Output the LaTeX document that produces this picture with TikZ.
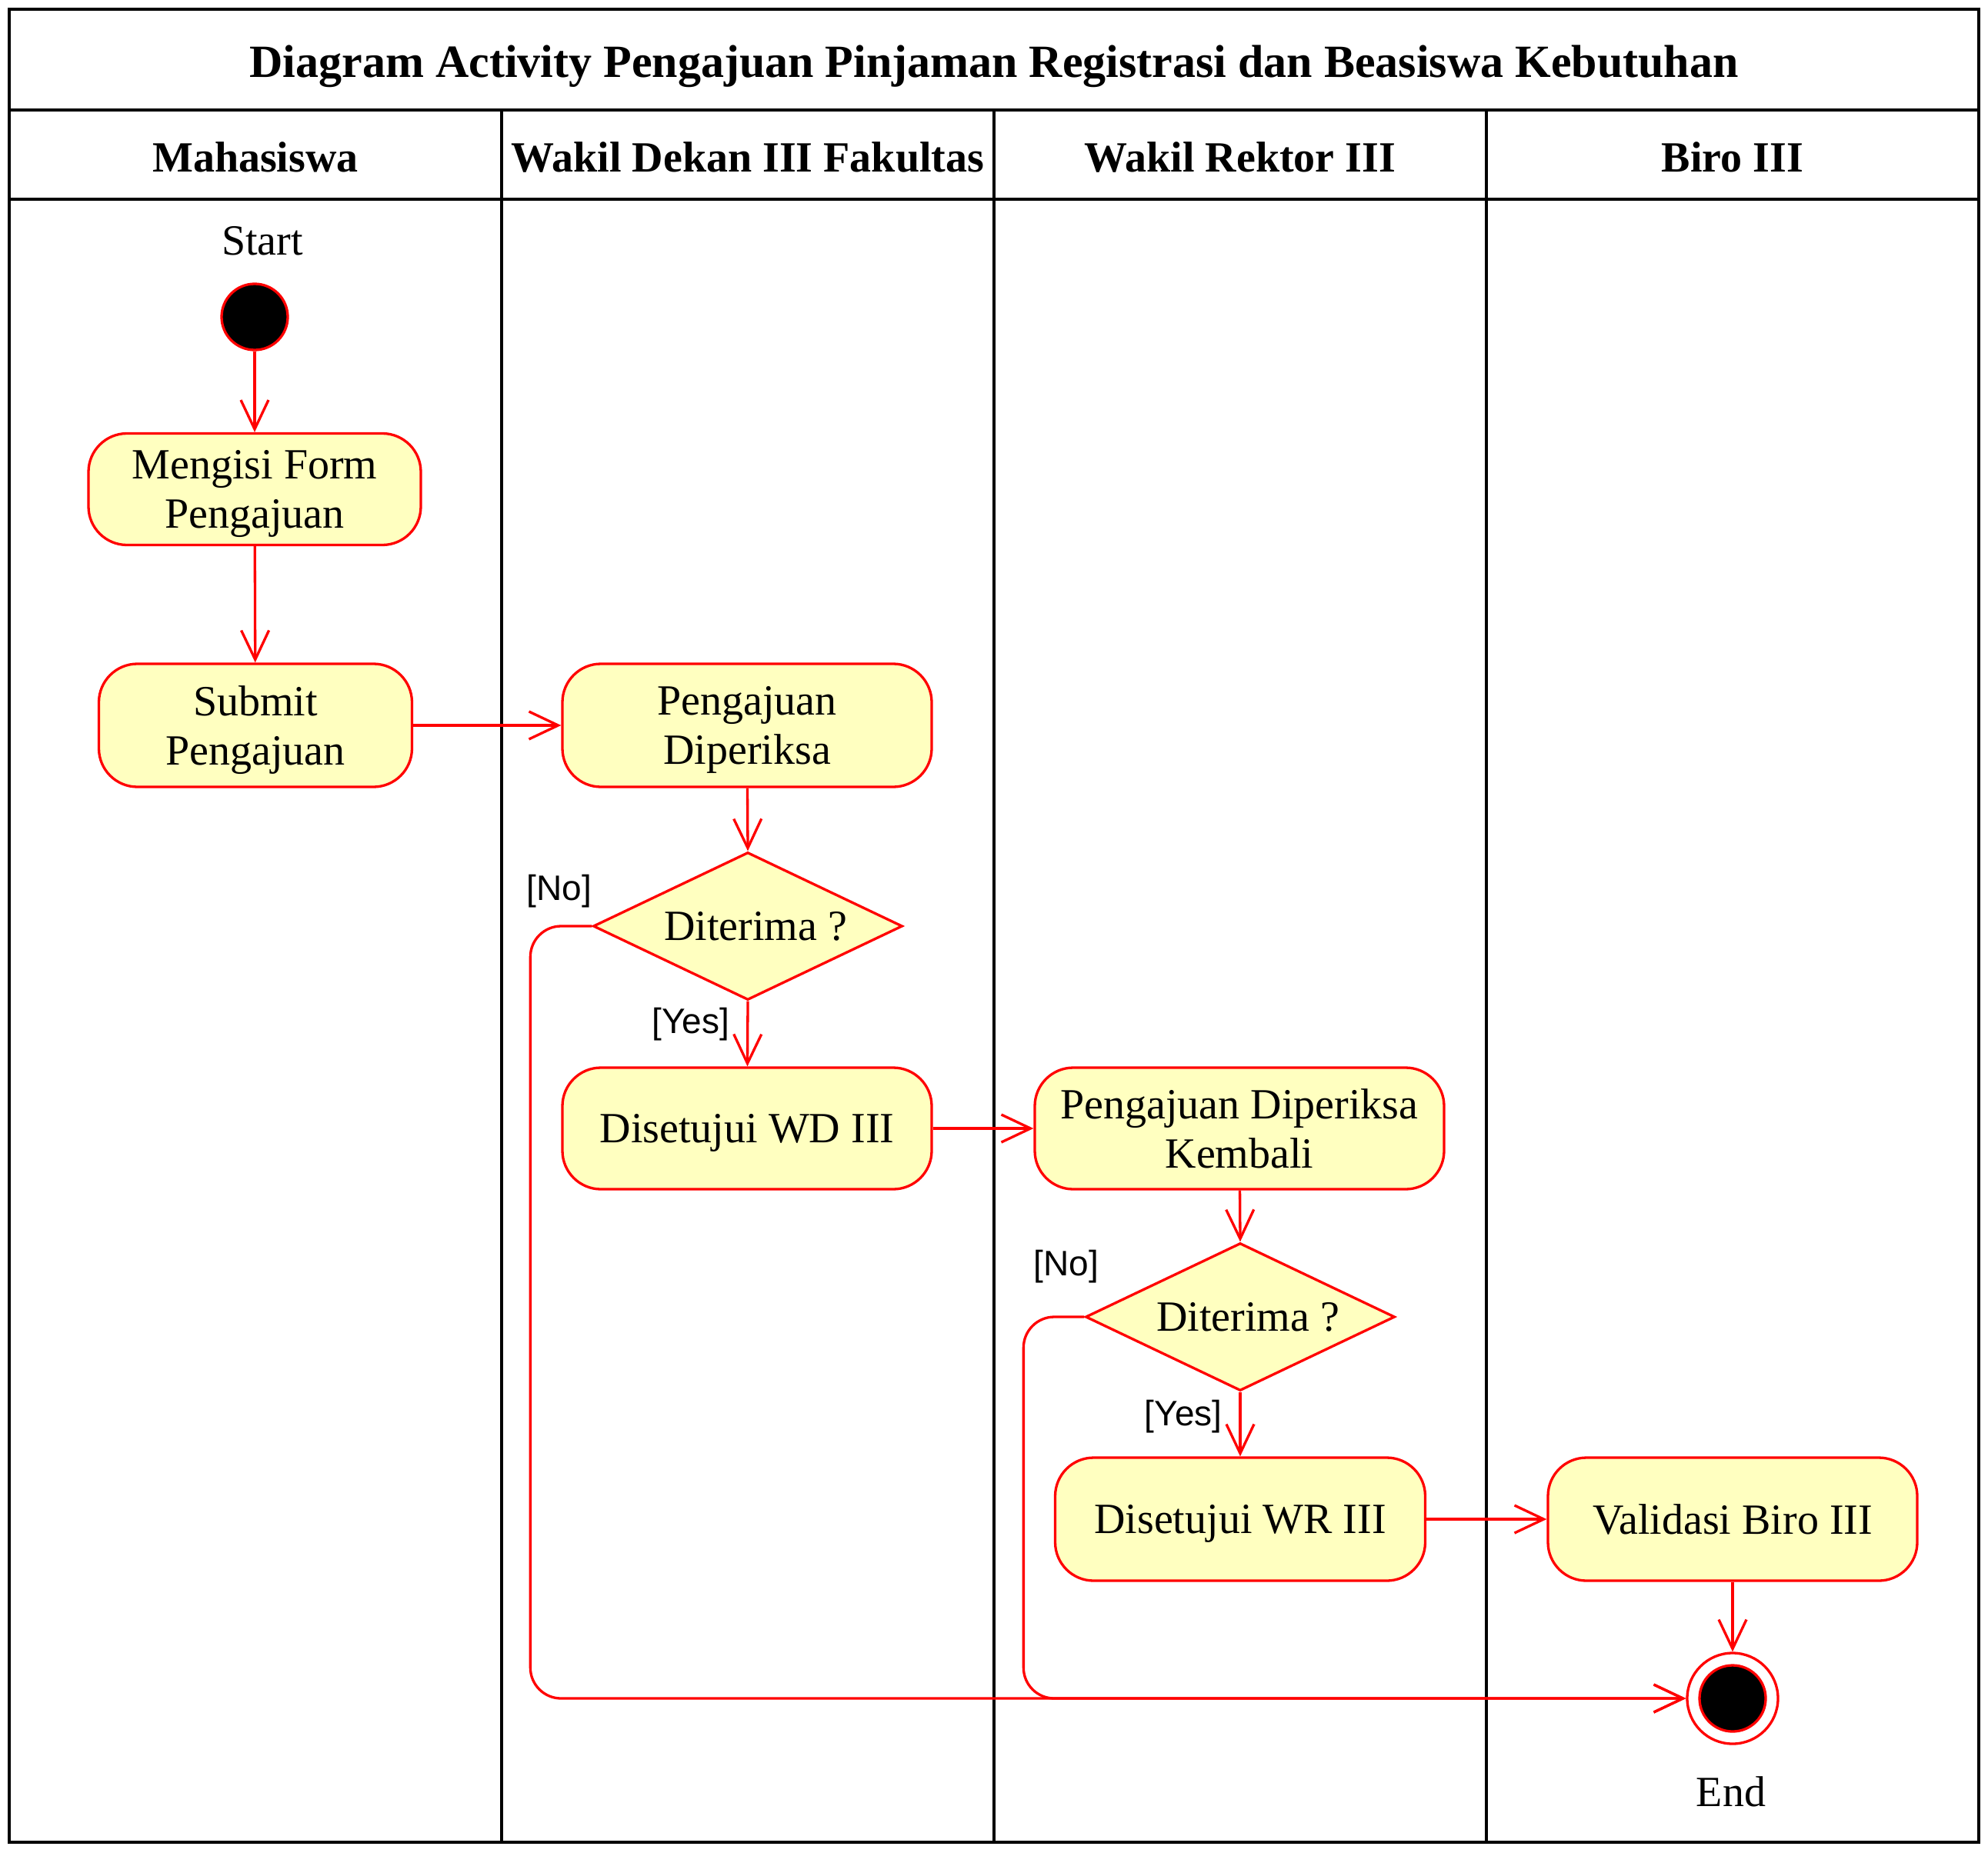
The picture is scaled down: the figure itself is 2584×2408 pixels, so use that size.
\documentclass[tikz,border=0pt]{standalone}
\usepackage{fontspec}
\setmainfont{Liberation Serif}
\newfontfamily\guardfont{Liberation Sans}
\usetikzlibrary{shapes.geometric,arrows.meta}
\definecolor{umlred}{RGB}{255,0,0}
\definecolor{umlfill}{RGB}{255,255,192}
\begin{document}
\begin{tikzpicture}[x=0.5pt,y=-0.5pt,
  txt/.style={font=\fontsize{28}{32}\selectfont},
  hdr/.style={font=\bfseries\fontsize{28}{32}\selectfont},
  ttl/.style={font=\bfseries\fontsize{30}{34}\selectfont},
  acttext/.style={align=center, inner sep=0pt, text depth=0.22em, yshift=-1.3pt, txt},
  act/.style={draw=umlred, fill=umlfill, line width=1.65pt, rounded corners=25pt,
    inner sep=0pt},
  dec/.style={diamond, aspect=2.09, draw=umlred, fill=umlfill, line width=1.65pt,
    minimum width=201pt, minimum height=96pt, inner sep=0pt, txt},
  flow/.style={draw=umlred, line width=1.65pt, -{Straight Barb[length=19pt,width=18pt]}},
  guard/.style={font=\guardfont\fontsize{23}{27}\selectfont, inner sep=0pt},
  frame/.style={draw=black, line width=2pt},
  divider/.style={draw=black, line width=1.6pt},
  startnode/.style={circle, draw=umlred, fill=black, line width=1.65pt, minimum size=43pt, inner sep=0pt},
  endring/.style={circle, draw=umlred, fill=white, line width=1.65pt, minimum size=59pt, inner sep=0pt},
  endcore/.style={circle, draw=umlred, fill=black, line width=1.65pt, minimum size=43pt, inner sep=0pt}
]
\useasboundingbox (0,0) rectangle (2584,2408);
% frame and lanes
\draw[frame] (12,12) rectangle (2572,2395);
\draw[frame] (12,143) -- (2572,143);
\draw[frame] (12,259) -- (2572,259);
\foreach \xx in {652,1292,1932} \draw[divider] (\xx,143) -- (\xx,2395);
\node[ttl] (title) at (1292,86) {Diagram Activity Pengajuan Pinjaman Registrasi dan Beasiswa Kebutuhan};
\node[hdr] (h1) at (332,204) {Mahasiswa};
\node[hdr] (h2) at (972,204) {Wakil Dekan III Fakultas};
\node[hdr] (h3) at (1612,204) {Wakil Rektor III};
\node[hdr] (h4) at (2252,204) {Biro III};
% nodes
\node[txt] (startlbl) at (341,313) {Start};
\node[startnode] (start) at (331,412) {};
\node[act, minimum width=216pt, minimum height=72.5pt,
  label={[acttext]center:Mengisi Form\\Pengajuan}] (form) at (331,636) {};
\node[act, minimum width=203.5pt, minimum height=80pt,
  label={[acttext]center:Submit\\Pengajuan}] (submit) at (332,943) {};
\node[act, minimum width=240pt, minimum height=80pt,
  label={[acttext]center:Pengajuan\\Diperiksa}] (periksa) at (971,943) {};
\node[dec] (d1) at (972,1204) {\hspace*{10pt}Diterima ?};
\node[act, minimum width=240pt, minimum height=79pt,
  label={[acttext]center:Disetujui WD III}] (wd) at (971,1467) {};
\node[act, minimum width=266pt, minimum height=79pt,
  label={[acttext]center:Pengajuan Diperiksa\\Kembali}] (pdk) at (1611,1467) {};
\node[dec] (d2) at (1612,1712) {\hspace*{10pt}Diterima ?};
\node[act, minimum width=240.5pt, minimum height=80pt,
  label={[acttext]center:Disetujui WR III}] (wr) at (1612,1975) {};
\node[act, minimum width=240pt, minimum height=80pt,
  label={[acttext]center:Validasi Biro III}] (val) at (2252,1975) {};
\node[endring] (end) at (2252,2208) {};
\node[endcore] (endc) at (2252,2208) {};
\node[txt] (endlbl) at (2250,2329) {End};
% guards
\node[guard] (no1) at (727,1159) {[No]};
\node[guard] (yes1) at (898,1332) {[Yes]};
\node[guard] (no2) at (1386,1647) {[No]};
\node[guard] (yes2) at (1538,1842) {[Yes]};
% flows
\draw[flow] (start) -- (form);
\draw[flow] (form) -- (submit);
\draw[flow] (submit) -- (periksa);
\draw[flow] (periksa) -- (d1.north);
\draw[flow] (d1.south) -- (wd);
\draw[flow] (wd) -- (pdk);
\draw[flow] (pdk) -- (d2.north);
\draw[flow] (d2.south) -- (wr);
\draw[flow] (wr) -- (val);
\draw[flow] (val) -- (end);
\draw[flow, rounded corners=20pt] (d1.west) -- ++(-80,0) |- (end.west);
\draw[flow, rounded corners=20pt] (d2.west) -- ++(-79,0) |- (end.west);
\end{tikzpicture}
\end{document}
